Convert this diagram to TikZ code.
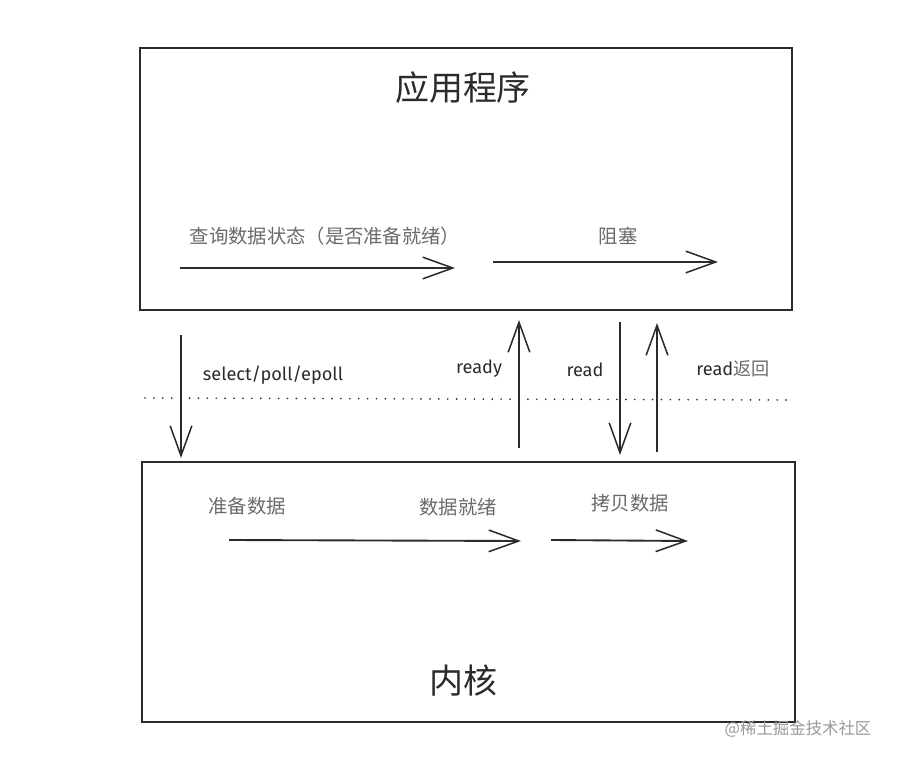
\documentclass[tikz,border=0pt]{standalone}
\usepackage{fontspec}
\setmainfont{Fira Sans}
\newfontfamily\cjk{Noto Sans CJK SC}
\usetikzlibrary{arrows.meta,positioning}
\definecolor{ink}{HTML}{2B2B2B}
\definecolor{softgrey}{HTML}{6A6A6A}
\begin{document}
\begin{tikzpicture}[
  x=0.03cm, y=-0.03cm,
  frame/.style={draw=ink, line width=1.4pt, inner sep=0pt},
  title/.style={text=ink, font=\cjk\fontsize{29}{32}\selectfont},
  step label/.style={text=softgrey, font=\cjk\fontsize{16.5}{19}\selectfont},
  call label/.style={text=ink, font=\fontsize{15.5}{18}\selectfont},
  arr/.style={-{Straight Barb[length=0.9cm,width=0.65cm,line width=1.3pt]}, draw=ink, line width=1.6pt},
  sep/.style={draw=ink, line width=1.6pt, line cap=round, dash pattern=on 0pt off 7.6pt}
]
  \useasboundingbox (0,0) rectangle (900,761);
  % the two layers
  \node[frame, minimum width=19.56cm, minimum height=7.86cm] (app) at (466,179) {};
  \node[frame, minimum width=19.59cm, minimum height=7.8cm] (kernel) at (468.5,592) {};
  \node[title] (apptitle) at (463,88) {应用程序};
  \node[title] (kerneltitle) at (463,681) {内核};
  % user space steps
  \node[step label] (query) at (325,236) {查询数据状态（是否准备就绪）};
  \node[step label] (block) at (618,236) {阻塞};
  \coordinate (q1) at (180,268); \coordinate (q2) at (455,268);
  \coordinate (b1) at (493,262); \coordinate (b2) at (718,262);
  \draw[arr] (q1) -- (q2);
  \draw[arr] (b1) -- (b2);
  % kernel steps
  \node[step label] (prep) at (247,506) {准备数据};
  \node[step label] (done) at (458,507) {数据就绪};
  \node[step label] (copy) at (630,503) {拷贝数据};
  \coordinate (p1) at (229,540); \coordinate (p2) at (521,541);
  \coordinate (c1) at (551,540); \coordinate (c2) at (688,541);
  \draw[arr] (p1) -- (p2);
  \draw[arr] (c1) -- (c2);
  % boundary between user space and kernel
  \coordinate (s1) at (145,398); \coordinate (s2) at (787,400);
  \draw[sep] (s1) -- (s2);
  % calls across the boundary
  \coordinate (sel1) at (181,335); \coordinate (sel2) at (181,458);
  \coordinate (rdy1) at (519,448); \coordinate (rdy2) at (519,320);
  \coordinate (rd1) at (620,322); \coordinate (rd2) at (620,455);
  \coordinate (ret1) at (657,452); \coordinate (ret2) at (657,323);
  \draw[arr] (sel1) -- (sel2);
  \draw[arr] (rdy1) -- (rdy2);
  \draw[arr] (rd1) -- (rd2);
  \draw[arr] (ret1) -- (ret2);
  \node[call label] (select) at (273,375) {select/poll/epoll};
  \node[call label] (ready) at (479,369) {ready};
  \node[call label] (read) at (585,370) {read};
  \node[call label] (readret) at (733,369) {read{\cjk\color{softgrey}返回}};
  % watermark
  \node[text=black!40, font=\cjk\fontsize{14}{16}\selectfont] (mark) at (798,729) {@稀土掘金技术社区};
\end{tikzpicture}
\end{document}
